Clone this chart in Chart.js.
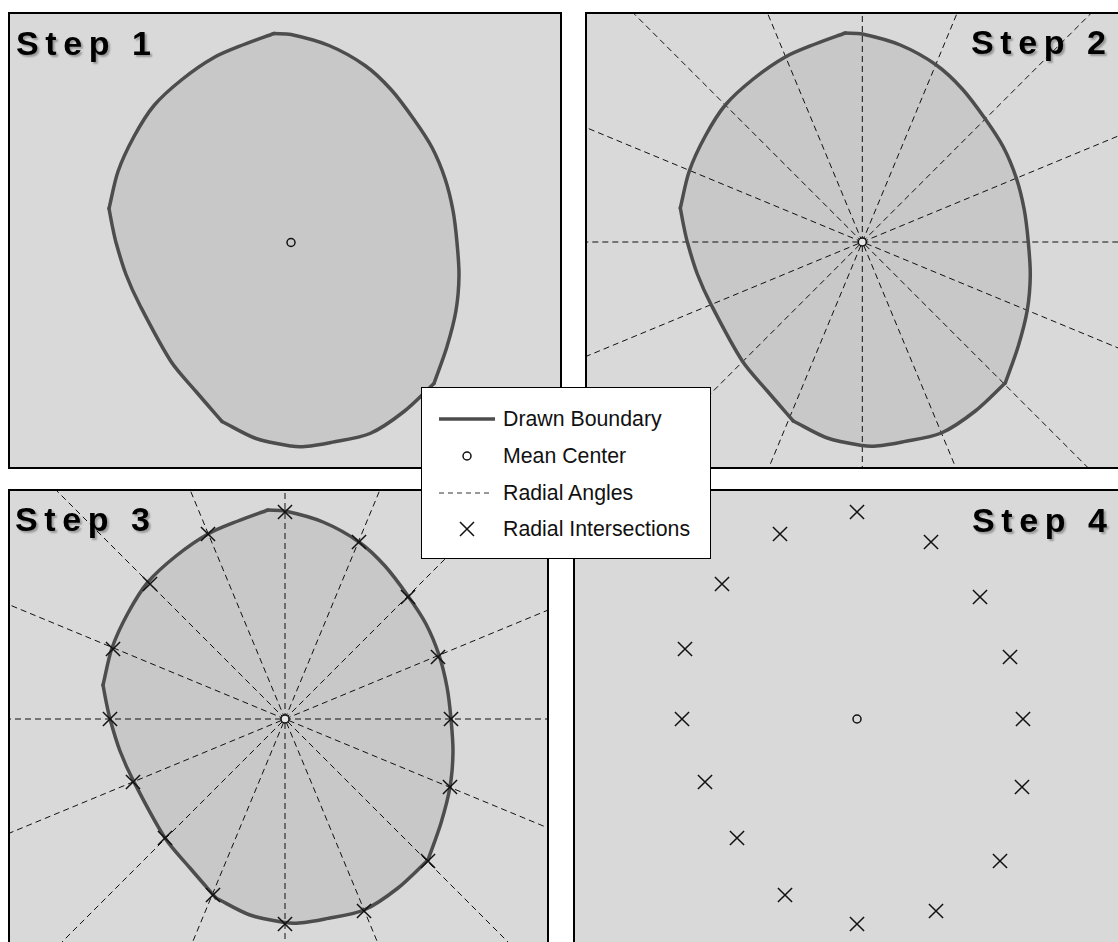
<!DOCTYPE html>
<html>
<head>
<meta charset="utf-8">
<title>Radial sampling steps</title>
<script src="https://cdn.jsdelivr.net/npm/chart.js@4.4.0/dist/chart.umd.min.js"></script>
<style>
  body {
    margin: 0;
    width: 1118px;
    height: 942px;
    overflow: hidden;
    position: relative;
    background: #fff;
    font-family: "Liberation Sans", Arial, sans-serif;
  }
  .panel {
    position: absolute;
    box-sizing: border-box;
    border: 2px solid #000;
    background: #d9d9d9;
  }
  .panel canvas { display: block; }
  .step {
    position: absolute;
    font-weight: bold;
    font-size: 34px;
    line-height: 34px;
    letter-spacing: 6.6px;
    color: #000;
    text-shadow: 2px 2px 2px rgba(0, 0, 0, 0.3);
    white-space: nowrap;
    z-index: 2;
  }
  #legend {
    position: absolute;
    left: 421px;
    top: 387px;
    width: 290px;
    height: 172px;
    box-sizing: border-box;
    border: 1.5px solid #000;
    background: #fff;
    z-index: 3;
  }
  .row {
    position: absolute;
    left: 0;
    height: 24px;
    font-size: 21.3px;
    line-height: 24px;
    color: #111;
  }
  .row svg { position: absolute; left: 15px; top: 2px; }
  .row span { position: absolute; left: 81px; white-space: nowrap; }
</style>
</head>
<body>

<div id="legend">
  <div class="row" style="top:19px">
    <svg width="60" height="20"><line x1="2" y1="10" x2="58" y2="10" stroke="#4d4d4d" stroke-width="3.5"/></svg>
    <span>Drawn Boundary</span>
  </div>
  <div class="row" style="top:56px">
    <svg width="60" height="20"><circle cx="30" cy="10" r="4" fill="none" stroke="#111" stroke-width="1.5"/></svg>
    <span>Mean Center</span>
  </div>
  <div class="row" style="top:93px">
    <svg width="60" height="20"><line x1="2" y1="10" x2="56" y2="10" stroke="#333" stroke-width="1" stroke-dasharray="5 4"/></svg>
    <span>Radial Angles</span>
  </div>
  <div class="row" style="top:129px">
    <svg width="60" height="20"><path d="M23 3 L37 17 M37 3 L23 17" stroke="#111" stroke-width="1.5"/></svg>
    <span>Radial Intersections</span>
  </div>
</div>

<script>
// boundary, in px offset from the mean center (y up)
// split at the corners so the smoothing does not round them
const arcTopRight = [[-17, 209], [0, 208], [38, 197], [74, 177], [100, 153], [123, 123], [141, 95],
    [154, 64], [162, 32], [166, 0], [168, -33], [165, -68], [156, -104], [143, -141]];
const arcBottom = [[143, -141], [113, -169], [79, -191], [40, -200], [14, -204], [0, -203.5],
    [-35, -196], [-69, -179]];
const arcLowerLeft = [[-69, -179], [-95, -149], [-120, -119], [-151, -63], [-165, -32], [-175, 0],
    [-179, 18], [-182, 34]];
const arcUpperLeft = [[-182, 34], [-173, 71], [-157, 106], [-137, 137], [-109, 163], [-77, 185],
    [-47, 198], [-17, 209]];

// radial angles (degrees), each one drawn as a full line through the center
const radialAngles = [0, 22.5, 45, 67.5, 90, 112.5, 135, 157.5];

// where the 16 radials cross the boundary
const intersections = [[0, 207], [74, 177], [123, 122], [153, 62], [166, 0], [165, -68], [143, -142],
    [79, -192], [0, -205], [-72, -176], [-120, -119], [-152, -63], [-175, 0], [-172, 70],
    [-135, 135], [-77, 185]];

const meanCenter = [[0, 0]];

const stepLabels = ["Step 1", "Step 2", "Step 3", "Step 4"];

// panel boxes on the page (outer border) and where the mean center sits
const panels = [
    { left: 8, top: 12, width: 554, height: 457, cx: 291, cy: 242.5, label: { left: 16, top: 26 } },
    { left: 585, top: 12, width: 545, height: 457, cx: 862.3, cy: 242, label: { left: 971, top: 25 } },
    { left: 8, top: 489, width: 541, height: 465, cx: 285, cy: 719, label: { left: 15, top: 502 } },
    { left: 573, top: 489, width: 557, height: 465, cx: 857, cy: 719, label: { left: 972, top: 503 } },
];

const toXY = (pts) => pts.map((p) => ({ x: p[0], y: p[1] }));

function buildDatasets(step) {
    const sets = [];
    const outline = arcTopRight.concat(arcBottom.slice(1), arcLowerLeft.slice(1), arcUpperLeft.slice(1));

    if (step <= 3) {
        // shape fill
        sets.push({
            data: toXY(outline),
            showLine: true,
            fill: "shape",
            backgroundColor: "#c8c8c8",
            borderWidth: 0,
            pointRadius: 0,
            tension: 0,
            order: 5,
        });
    }

    if (step === 2 || step === 3) {
        radialAngles.forEach((a) => {
            const r = (a * Math.PI) / 180;
            const L = 1000;
            sets.push({
                data: [
                    { x: -L * Math.cos(r), y: -L * Math.sin(r) },
                    { x: L * Math.cos(r), y: L * Math.sin(r) },
                ],
                showLine: true,
                borderColor: "#111",
                borderWidth: 1,
                borderDash: [6, 4],
                pointRadius: 0,
                order: 4,
            });
        });
    }

    if (step <= 3) {
        [arcTopRight, arcBottom, arcLowerLeft, arcUpperLeft].forEach((arc) => {
            sets.push({
                data: toXY(arc),
                showLine: true,
                borderColor: "#4d4d4d",
                borderWidth: 3.5,
                borderCapStyle: "round",
                pointRadius: 0,
                tension: 0.3,
                fill: false,
                order: 3,
            });
        });
    }

    if (step >= 3) {
        sets.push({
            data: toXY(intersections),
            pointStyle: "crossRot",
            pointRadius: 10,
            borderColor: "#111",
            borderWidth: 1.5,
            order: 2,
        });
    }

    sets.push({
        data: toXY(meanCenter),
        pointStyle: "circle",
        pointRadius: 4,
        borderColor: "#111",
        borderWidth: 1.5,
        backgroundColor: step === 2 || step === 3 ? "#e6e6e6" : "rgba(0,0,0,0)",
        order: 1,
    });

    return sets;
}

panels.forEach((p, i) => {
    const box = document.createElement("div");
    box.className = "panel";
    box.style.left = p.left + "px";
    box.style.top = p.top + "px";
    box.style.width = p.width + "px";
    box.style.height = p.height + "px";

    const cw = p.width - 4;
    const ch = p.height - 4;
    const canvas = document.createElement("canvas");
    canvas.width = cw;
    canvas.height = ch;
    canvas.style.width = cw + "px";
    canvas.style.height = ch + "px";
    box.appendChild(canvas);
    document.body.appendChild(box);

    const label = document.createElement("div");
    label.className = "step";
    label.style.left = p.label.left + "px";
    label.style.top = p.label.top + "px";
    label.textContent = stepLabels[i];
    document.body.appendChild(label);

    // one data unit = one pixel, center of the shape at the mean center
    const xMin = -(p.cx - p.left - 2);
    const yMax = p.cy - p.top - 2;

    new Chart(canvas.getContext("2d"), {
        type: "scatter",
        data: { datasets: buildDatasets(i + 1) },
        options: {
            responsive: false,
            animation: false,
            events: [],
            layout: { padding: 0, autoPadding: false },
            plugins: { legend: { display: false }, tooltip: { enabled: false } },
            scales: {
                x: { type: "linear", min: xMin, max: xMin + cw, display: false },
                y: { type: "linear", min: yMax - ch, max: yMax, display: false },
            },
        },
    });
});
</script>
</body>
</html>
